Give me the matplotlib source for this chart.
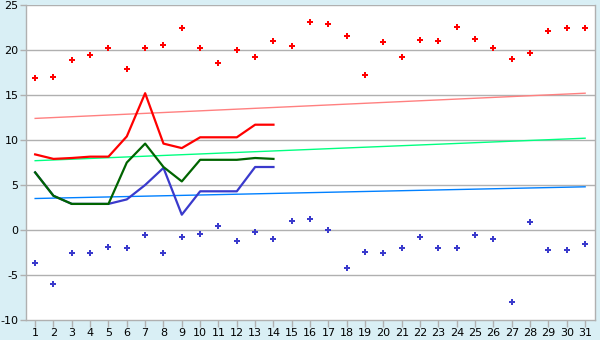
import matplotlib
matplotlib.use("Agg")
import matplotlib.pyplot as plt

plt.rcParams["axes.unicode_minus"] = False

# days of the month
days = list(range(1, 32))

# daily max / min (points)
t_max = [16.9, 17.0, 18.9, 19.4, 20.2, 17.9, 20.2, 20.6, 22.4, 20.2,
         18.6, 20.0, 19.2, 21.0, 20.4, 23.1, 22.9, 21.6, 17.2, 20.9,
         19.2, 21.1, 21.0, 22.6, 21.2, 20.2, 19.0, 19.7, 22.1, 22.4, 22.4]
t_min = [-3.7, -6.0, -2.6, -2.5, -1.9, -2.0, -0.6, -2.6, -0.8, -0.4,
         0.5, -1.2, -0.2, -1.0, 1.0, 1.2, 0.0, -4.2, -2.4, -2.6,
         -2.0, -0.8, -2.0, -2.0, -0.6, -1.0, -8.0, 0.9, -2.2, -2.2, -1.5]

# running lines, first 14 days
line_days = list(range(1, 15))
red_line = [8.4, 7.9, 8.0, 8.15, 8.15, 10.4, 15.2, 9.6, 9.1, 10.3, 10.3, 10.3, 11.7, 11.7]
green_line = [6.4, 3.8, 2.9, 2.9, 2.9, 7.5, 9.6, 7.0, 5.4, 7.8, 7.8, 7.8, 8.0, 7.9]
blue_line = [6.4, 3.8, 2.9, 2.9, 2.9, 3.4, 5.0, 6.9, 1.7, 4.3, 4.3, 4.3, 7.0, 7.0]

# normal (trend) lines, start and end of month
norm_days = [1, 31]
norm_max = [12.4, 15.2]
norm_mean = [7.7, 10.2]
norm_min = [3.5, 4.8]

bg = "#d9eff5"
grid_col = "#b0b0b0"

fig = plt.figure(figsize=(6, 3.4), dpi=100, facecolor=bg)
ax = fig.add_axes([0.0433, 0.0588, 0.9487, 0.9265])
ax.set_facecolor("white")

for y in range(-5, 26, 5):
    ax.axhline(y, color=grid_col, lw=1.0, zorder=1)

ax.plot(norm_days, norm_max, color="#ff8080", lw=1.0, zorder=2)
ax.plot(norm_days, norm_mean, color="#00ff80", lw=1.0, zorder=2)
ax.plot(norm_days, norm_min, color="#0080ff", lw=1.0, zorder=2)

ax.plot(line_days, blue_line, color="#3a3acc", lw=1.6, zorder=3)
ax.plot(line_days, green_line, color="#006400", lw=1.6, zorder=4)
ax.plot(line_days, red_line, color="#ff0000", lw=1.6, zorder=4)

ax.plot(days, t_max, ls="none", marker="P", ms=5, color="#ff0000", mew=0, zorder=5)
ax.plot(days, t_min, ls="none", marker="P", ms=5, color="#3a3acc", mew=0, zorder=5)

ax.set_xlim(0.5, 31.55)
ax.set_ylim(-10, 25)
ax.set_xticks(days)
ax.set_yticks(range(-10, 26, 5))
ax.tick_params(axis="both", labelsize=8, colors=grid_col, labelcolor="black",
               length=4, width=1, pad=1.5)
ax.tick_params(axis="x", length=5, pad=1)

for side in ["left", "bottom", "right"]:
    ax.spines[side].set_color(grid_col)
    ax.spines[side].set_linewidth(1.0)
ax.spines["top"].set_visible(False)

fig.savefig("out.png", dpi=100, facecolor=bg)
